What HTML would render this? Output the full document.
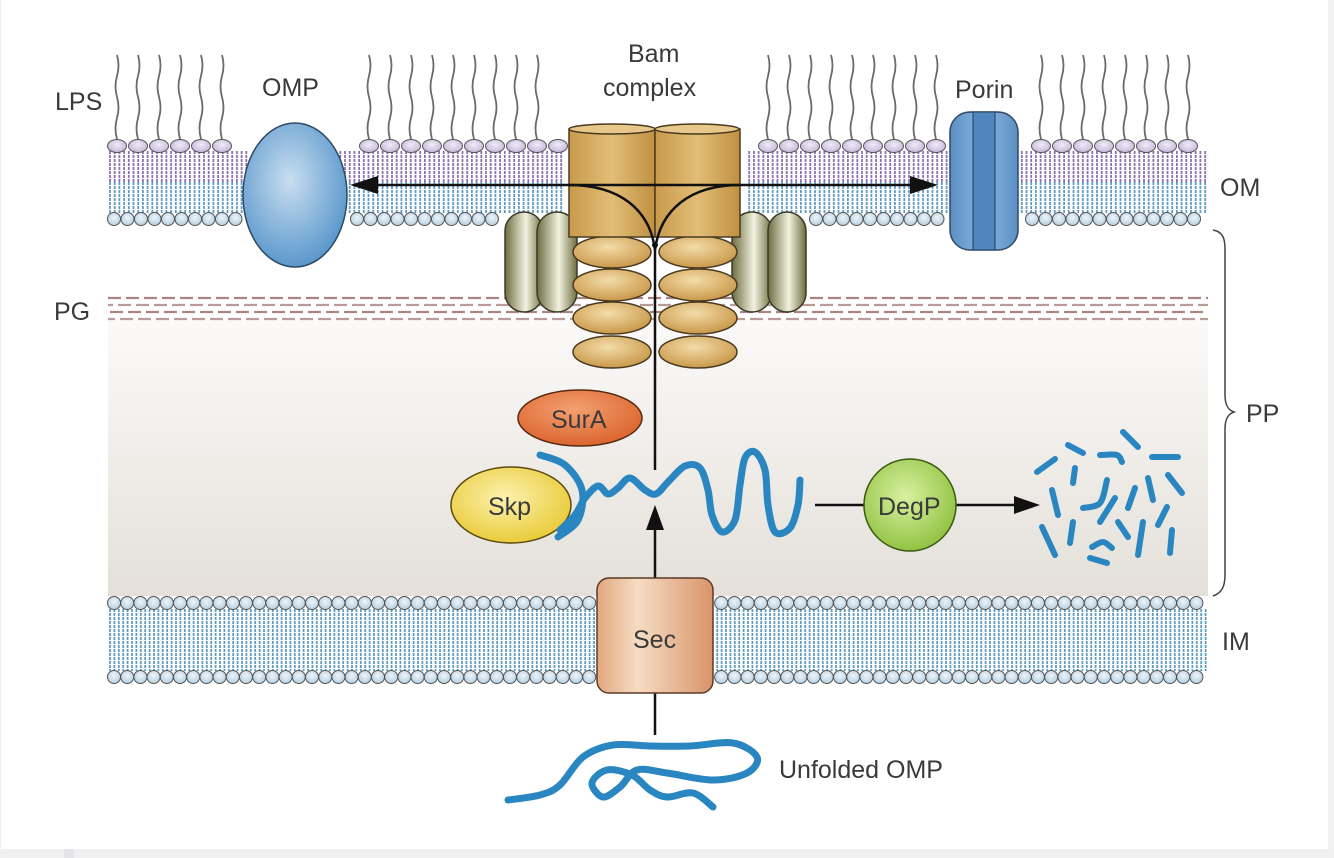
<!DOCTYPE html>
<html><head><meta charset="utf-8"><style>
html,body{margin:0;padding:0;background:#fff;}
svg{display:block;}
text{font-family:"Liberation Sans",sans-serif;fill:#3a3a3a;font-size:25px;}
</style></head><body>
<svg id="s" width="1334" height="858" viewBox="0 0 1334 858" xmlns="http://www.w3.org/2000/svg">
<defs>
<linearGradient id="pp" x1="0" y1="0" x2="0" y2="1"><stop offset="0" stop-color="#fbfaf9"/><stop offset="1" stop-color="#e4e0d9"/></linearGradient>
<radialGradient id="omp" cx="0.45" cy="0.4" r="0.6"><stop offset="0" stop-color="#c9def0"/><stop offset="1" stop-color="#5b98cc"/></radialGradient>
<linearGradient id="cyl" x1="0" y1="0" x2="1" y2="0"><stop offset="0" stop-color="#c89a4a"/><stop offset="0.5" stop-color="#e2bd78"/><stop offset="1" stop-color="#c09040"/></linearGradient>
<radialGradient id="ov" cx="0.45" cy="0.35" r="0.65"><stop offset="0" stop-color="#f4dca8"/><stop offset="1" stop-color="#c9984a"/></radialGradient>
<linearGradient id="olv" x1="0" y1="0" x2="1" y2="0"><stop offset="0" stop-color="#6d6d40"/><stop offset="0.55" stop-color="#f2f2e0"/><stop offset="1" stop-color="#6d6d40"/></linearGradient>
<linearGradient id="sec" x1="0" y1="0" x2="1" y2="0"><stop offset="0" stop-color="#e3a77e"/><stop offset="0.35" stop-color="#f6dcc4"/><stop offset="1" stop-color="#d9946a"/></linearGradient>
<linearGradient id="por" x1="0" y1="0" x2="1" y2="0"><stop offset="0" stop-color="#5a8ec4"/><stop offset="0.5" stop-color="#8cb8e0"/><stop offset="1" stop-color="#5a8ec4"/></linearGradient>
<radialGradient id="sur" cx="0.45" cy="0.35" r="0.7"><stop offset="0" stop-color="#f4a070"/><stop offset="1" stop-color="#d9602a"/></radialGradient>
<radialGradient id="skp" cx="0.45" cy="0.4" r="0.65"><stop offset="0" stop-color="#fcf2b0"/><stop offset="1" stop-color="#e8c830"/></radialGradient>
<radialGradient id="deg" cx="0.45" cy="0.4" r="0.65"><stop offset="0" stop-color="#d8f0a0"/><stop offset="1" stop-color="#8cc03c"/></radialGradient>
<radialGradient id="headP" cx="0.5" cy="0.4" r="0.6"><stop offset="0" stop-color="#f0ecf6"/><stop offset="1" stop-color="#c6b6da"/></radialGradient>
<radialGradient id="headB" cx="0.5" cy="0.4" r="0.6"><stop offset="0" stop-color="#eef5fa"/><stop offset="1" stop-color="#b6cfe0"/></radialGradient>
</defs>
<rect x="0" y="849" width="1334" height="9" fill="#f0f0f0"/>
<rect x="64" y="849" width="10" height="9" fill="#e4e4e8"/>
<rect x="0" y="0" width="1" height="849" fill="#eee"/>
<rect x="1328" y="0" width="6" height="849" fill="#f2f2f2"/>
<rect x="108" y="320" width="1100" height="276" fill="url(#pp)"/>
<g id="lipids"></g>
<g id="pg"></g>
<ellipse cx="295" cy="195" rx="52" ry="72" fill="url(#omp)" stroke="#2f4a66" stroke-width="1.5"/>
<rect x="950" y="112" width="68" height="138" rx="20" fill="url(#por)" stroke="#2f4a66" stroke-width="1.5"/>
<rect x="973" y="112" width="22" height="138" fill="#4f86c0" stroke="#2f4a66" stroke-width="1.2"/>
<rect x="505" y="212" width="38" height="100" rx="19" fill="url(#olv)" stroke="#3a3a28" stroke-width="1.5"/>
<rect x="537" y="212" width="40" height="100" rx="20" fill="url(#olv)" stroke="#3a3a28" stroke-width="1.5"/>
<rect x="732" y="212" width="40" height="100" rx="20" fill="url(#olv)" stroke="#3a3a28" stroke-width="1.5"/>
<rect x="768" y="212" width="38" height="100" rx="19" fill="url(#olv)" stroke="#3a3a28" stroke-width="1.5"/>
<g fill="url(#ov)" stroke="#4a3a20" stroke-width="1.5">
<ellipse cx="612" cy="252" rx="39" ry="16"/><ellipse cx="698" cy="252" rx="39" ry="16"/>
<ellipse cx="612" cy="285" rx="39" ry="16"/><ellipse cx="698" cy="285" rx="39" ry="16"/>
<ellipse cx="612" cy="318" rx="39" ry="16"/><ellipse cx="698" cy="318" rx="39" ry="16"/>
<ellipse cx="612" cy="352" rx="39" ry="16"/><ellipse cx="698" cy="352" rx="39" ry="16"/>
</g>
<g stroke="#4a3a20" stroke-width="1.5">
<rect x="569" y="129" width="86" height="108" fill="url(#cyl)"/>
<ellipse cx="612" cy="129" rx="43" ry="5" fill="#e8c88a"/>
<rect x="655" y="129" width="85" height="108" fill="url(#cyl)"/>
<ellipse cx="697" cy="129" rx="42" ry="5" fill="#e8c88a"/>
</g>
<g stroke="#111" stroke-width="2.5" fill="none">
<line x1="360" y1="185" x2="925" y2="185"/>
<path d="M569,185 C620,185 650,210 655,250"/>
<path d="M740,185 C690,185 660,210 655,250"/>
<line x1="655" y1="245" x2="655" y2="470"/>
<line x1="655" y1="578" x2="655" y2="520"/>
<line x1="655" y1="693" x2="655" y2="735"/>
<line x1="815" y1="505" x2="865" y2="505"/>
<line x1="956" y1="505" x2="1020" y2="505"/>
</g>
<g fill="#111">
<polygon points="350,185 378,176 378,194"/>
<polygon points="938,185 910,176 910,194"/>
<polygon points="655,505 646,530 664,530"/>
<polygon points="1040,505 1014,496 1014,514"/>
<circle cx="655" cy="245" r="3"/>
</g>
<rect x="597" y="578" width="116" height="115" rx="12" fill="url(#sec)" stroke="#5a3a28" stroke-width="1.5"/>
<ellipse cx="580" cy="418" rx="62" ry="28" fill="url(#sur)" stroke="#5a2a10" stroke-width="1.5"/>
<ellipse cx="511" cy="505" rx="60" ry="38" fill="url(#skp)" stroke="#5a4a10" stroke-width="1.5"/>
<circle cx="910" cy="505" r="46" fill="url(#deg)" stroke="#3a5a10" stroke-width="1.5"/>
<g id="strands" fill="none" stroke="#2a86c0" stroke-width="7" stroke-linecap="round"></g>
<text x="55" y="110">LPS</text>
<text x="262" y="96">OMP</text>
<text x="628" y="62">Bam</text>
<text x="603" y="96">complex</text>
<text x="955" y="98">Porin</text>
<text x="1220" y="196">OM</text>
<text x="54" y="320">PG</text>
<text x="1246" y="422">PP</text>
<text x="1222" y="650">IM</text>
<text x="779" y="778">Unfolded OMP</text>
<text x="551" y="428">SurA</text>
<text x="488" y="515">Skp</text>
<text x="878" y="515">DegP</text>
<text x="633" y="648">Sec</text>
<path d="M1213,230 C1224,232 1225,240 1225,250 L1225,395 C1225,405 1228,410 1234,412 C1228,414 1225,419 1225,429 L1225,575 C1225,586 1222,593 1213,596" fill="none" stroke="#444" stroke-width="1.5"/>
</svg>
<script>
const NS="http://www.w3.org/2000/svg";
function el(p,t,a){const e=document.createElementNS(NS,t);for(const k in a)e.setAttribute(k,a[k]);p.appendChild(e);return e;}
const L=document.getElementById('lipids');
function excl(x,r){return r.some(([a,b])=>x>a&&x<b);}
const lpsEx=[[232,352],[552,748],[938,1024]];
for(let x=117;x<=1205;x+=21){ if(excl(x,lpsEx))continue;
 let d="M"+x+",139"; let i=0; for(let y=139;y>55;y-=21,i++){const s=i%2?3:-3; d+=" Q"+(x+s)+","+(y-10.5)+" "+x+","+(y-21);}
 el(L,'path',{d:d,fill:'none',stroke:'#6a6a6a','stroke-width':1.8});}
const omEx=[[250,340],[565,745],[948,1020]];
for(let x=110;x<=1207;x+=4.7){ if(excl(x,omEx))continue;
 el(L,'line',{x1:x,y1:151,x2:x,y2:182,stroke:'#8e6fb0','stroke-width':1.8,'stroke-dasharray':'3 1'});
 el(L,'line',{x1:x,y1:182,x2:x,y2:213,stroke:'#5e9cc4','stroke-width':1.8,'stroke-dasharray':'3 1'});}
for(let x=117;x<=1200;x+=21){ if(excl(x,[[238,350],[560,750],[942,1026]]))continue;
 el(L,'ellipse',{cx:x,cy:146,rx:9.5,ry:6.5,fill:'url(#headP)',stroke:'#555','stroke-width':1});}
for(let x=114;x<=1202;x+=13.5){ if(excl(x,[[240,350],[500,810],[944,1024]]))continue;
 el(L,'circle',{cx:x,cy:219,r:6.5,fill:'url(#headB)',stroke:'#555','stroke-width':1});}
for(let x=110;x<=1207;x+=4.4){ if(excl(x,[[597,713]]))continue;
 el(L,'line',{x1:x,y1:609,x2:x,y2:671,stroke:'#5e9cc4','stroke-width':1.8,'stroke-dasharray':'3 1'});}
for(let x=114;x<=1202;x+=13.2){ if(excl(x,[[590,720]]))continue;
 el(L,'circle',{cx:x,cy:603,r:6.5,fill:'url(#headB)',stroke:'#555','stroke-width':1});
 el(L,'circle',{cx:x,cy:677,r:6.5,fill:'url(#headB)',stroke:'#555','stroke-width':1});}
const P=document.getElementById('pg');
[298,305,312,319].forEach((y,i)=>{el(P,'line',{x1:108,y1:y,x2:1208,y2:y,stroke:i%2?'#b89c98':'#a88580','stroke-width':2.2,'stroke-dasharray':'13 5','stroke-dashoffset':i*8});});
function cr(pts){let d="M"+pts[0].join(",");for(let i=0;i<pts.length-1;i++){const p0=pts[i-1]||pts[i],p1=pts[i],p2=pts[i+1],p3=pts[i+2]||p2;
 d+=" C"+(p1[0]+(p2[0]-p0[0])/6)+","+(p1[1]+(p2[1]-p0[1])/6)+" "+(p2[0]-(p3[0]-p1[0])/6)+","+(p2[1]-(p3[1]-p1[1])/6)+" "+p2[0]+","+p2[1];}return d;}
const S=document.getElementById('strands');
el(S,'path',{d:cr([[540,455],[565,465],[582,490],[578,520],[558,537]])});
el(S,'path',{d:cr([[560,530],[575,515],[585,498],[598,486],[608,494],[618,488],[630,478],[645,490],[656,494],[668,482],[685,466],[700,468],[708,490],[712,515],[722,532],[735,520],[740,485],[745,458],[755,452],[765,470],[768,505],[775,532],[790,528],[798,505],[800,480]])});
el(S,'path',{d:cr([[508,800],[540,795],[560,785],[583,757],[613,745],[650,746],[690,746],[733,743],[757,757],[747,773],[713,780],[667,773],[637,770],[620,787],[603,797],[592,783],[607,770],[632,775],[650,790],[667,797],[693,793],[713,807]])});
[[[1037,472],[1055,459]],[[1068,445],[1083,453]],[[1075,468],[1073,483]],[[1100,455],[1117,455],[1122,462]],[[1123,432],[1138,447]],[[1152,457],[1178,457]],[[1052,490],[1058,515]],[[1083,508],[1100,503],[1107,480]],[[1115,498],[1100,522]],[[1135,488],[1128,508]],[[1148,478],[1153,500]],[[1168,475],[1182,493]],[[1167,507],[1158,525]],[[1042,527],[1055,555]],[[1073,522],[1070,543]],[[1092,547],[1103,542],[1112,548]],[[1118,522],[1128,537]],[[1143,522],[1138,555]],[[1172,530],[1170,553]],[[1090,558],[1107,563]]].forEach(p=>el(S,'path',{d:cr(p),'stroke-width':6}));
</script>
</body></html>
